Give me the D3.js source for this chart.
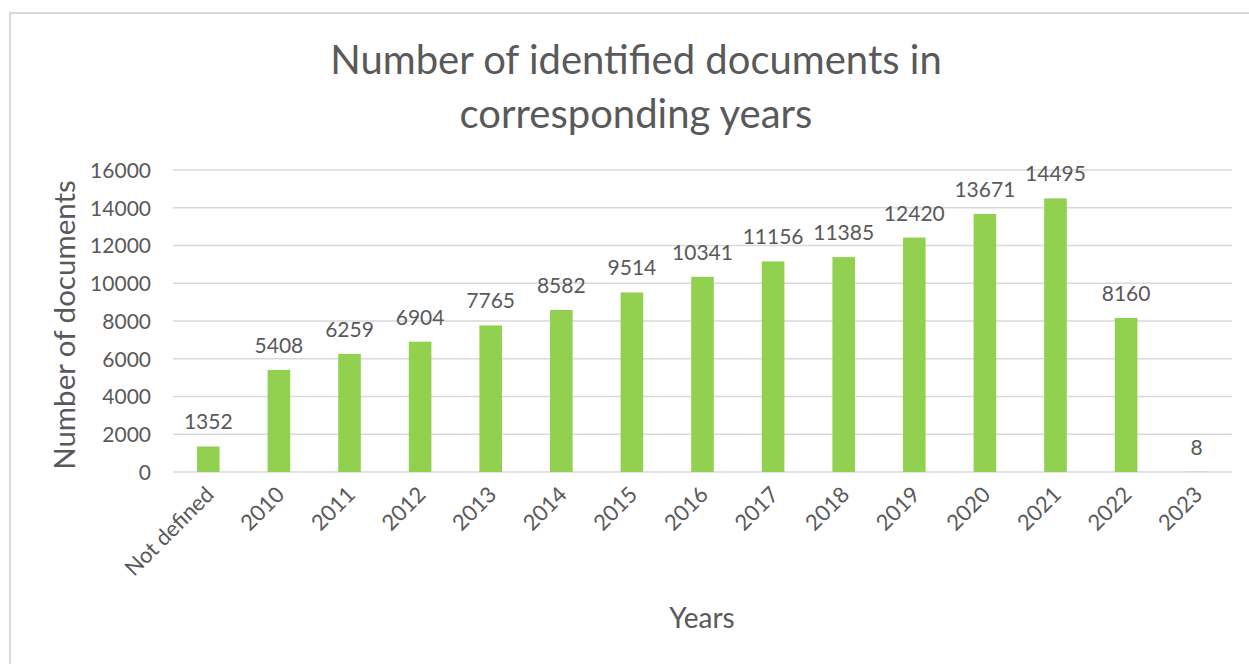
<!DOCTYPE html>
<html>
<head>
<meta charset="utf-8">
<script src="https://cdn.jsdelivr.net/npm/d3@7"></script>
<style>
  html, body { margin: 0; padding: 0; background: #fff; }
  svg { display: block; }
  text { font-family: Lato, "Open Sans", sans-serif; fill: #595959; }
</style>
</head>
<body>
<svg id="chart" width="1249" height="664"></svg>
<script>
// Documents identified per publication year
const categories = ["Not defined", "2010", "2011", "2012", "2013", "2014", "2015", "2016",
                    "2017", "2018", "2019", "2020", "2021", "2022", "2023"];
const documents = [1352, 5408, 6259, 6904, 7765, 8582, 9514, 10341,
                   11156, 11385, 12420, 13671, 14495, 8160, 8];
const yTicks = [0, 2000, 4000, 6000, 8000, 10000, 12000, 14000, 16000];
const titleLines = ["Number of identified documents in", "corresponding years"];
const yTitle = "Number of documents";
const xTitle = "Years";

const svg = d3.select("#chart");
const W = 1249, H = 664;
const plot = { left: 173, right: 1232, top: 170, bottom: 472 };
const labelSize = 21;

// chart frame
svg.append("rect")
  .attr("x", 10).attr("y", 13)
  .attr("width", W + 20).attr("height", H + 20)
  .attr("fill", "#fff")
  .attr("stroke", "#d9d9d9").attr("stroke-width", 2);

const x = d3.scaleBand()
  .domain(categories)
  .range([plot.left, plot.right])
  .paddingInner(0.68).paddingOuter(0.34);

const y = d3.scaleLinear()
  .domain([0, 16000])
  .range([plot.bottom, plot.top]);

// horizontal gridlines
svg.append("g")
  .selectAll("line")
  .data(yTicks)
  .join("line")
  .attr("x1", plot.left).attr("x2", plot.right)
  .attr("y1", d => y(d)).attr("y2", d => y(d))
  .attr("stroke", "#d9d9d9").attr("stroke-width", 1.3);

// y axis labels
const yAxis = d3.axisLeft(y).tickValues(yTicks).tickSize(0).tickPadding(0)
  .tickFormat(d3.format("d"));
const gy = svg.append("g")
  .attr("transform", `translate(${plot.left - 22},0)`)
  .call(yAxis);
gy.select(".domain").remove();
gy.selectAll("text")
  .attr("font-size", labelSize)
  .attr("font-family", "Lato, sans-serif")
  .attr("fill", "#595959")
  .attr("dy", "0.35em");

// bars
svg.append("g")
  .selectAll("rect")
  .data(categories.map((c, i) => ({ c, v: documents[i] })))
  .join("rect")
  .attr("x", d => x(d.c))
  .attr("width", x.bandwidth())
  .attr("y", d => y(d.v))
  .attr("height", d => y(0) - y(d.v))
  .attr("fill", "#92d050");

// value labels
svg.append("g")
  .selectAll("text")
  .data(categories.map((c, i) => ({ c, v: documents[i] })))
  .join("text")
  .attr("x", d => x(d.c) + x.bandwidth() / 2)
  .attr("y", d => y(d.v) - 17)
  .attr("text-anchor", "middle")
  .attr("font-size", labelSize)
  .text(d => d.v);

// x axis category labels, rotated
const xAxis = d3.axisBottom(x).tickSize(0).tickPadding(0);
const gx = svg.append("g")
  .attr("transform", `translate(0,${plot.bottom})`)
  .call(xAxis);
gx.select(".domain").remove();
gx.selectAll("text")
  .attr("font-size", 22)
  .attr("font-family", "Lato, sans-serif")
  .attr("fill", "#595959")
  .attr("text-anchor", "end")
  .attr("dy", null)
  .attr("y", 0)
  .attr("transform", "translate(7,24) rotate(-45)");

// title
svg.append("text")
  .attr("x", 636).attr("y", 74)
  .attr("text-anchor", "middle")
  .attr("font-size", 40)
  .selectAll("tspan")
  .data(titleLines)
  .join("tspan")
  .attr("x", 636)
  .attr("dy", (d, i) => i === 0 ? 0 : 54)
  .text(d => d);

// axis titles
svg.append("text")
  .attr("transform", `translate(75,${(plot.top + plot.bottom) / 2 + 4}) rotate(-90)`)
  .attr("text-anchor", "middle")
  .attr("font-size", 29.5)
  .text(yTitle);

svg.append("text")
  .attr("x", 702).attr("y", 628)
  .attr("text-anchor", "middle")
  .attr("font-size", 28)
  .text(xTitle);
</script>
</body>
</html>
